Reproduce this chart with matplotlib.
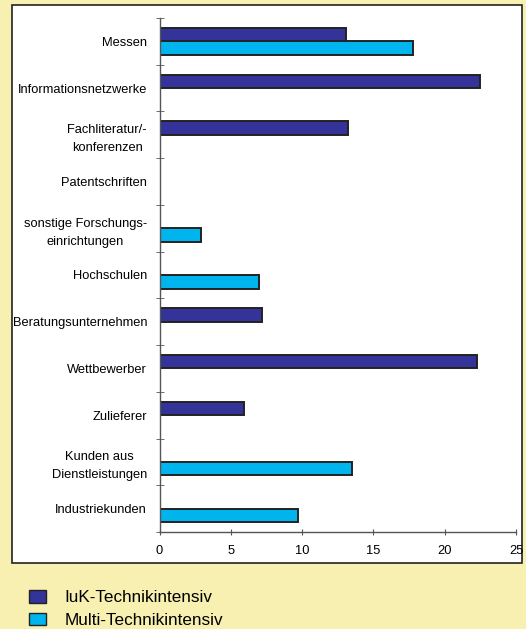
import matplotlib.pyplot as plt
from matplotlib.patches import Rectangle, Patch
import numpy as np

plt.rcParams['font.family'] = ['Liberation Sans', 'DejaVu Sans']

categories = [
    "Messen",
    "Informationsnetzwerke",
    "Fachliteratur/-\nkonferenzen",
    "Patentschriften",
    "sonstige Forschungs-\neinrichtungen",
    "Hochschulen",
    "Beratungsunternehmen",
    "Wettbewerber",
    "Zulieferer",
    "Kunden aus\nDienstleistungen",
    "Industriekunden",
]
iuk_values = [13.1, 22.5, 13.2, 0, 0, 0, 7.2, 22.3, 5.95, 0, 0]
multi_values = [17.75, 0, 0, 0, 2.9, 7.0, 0, 0, 0, 13.5, 9.7]
series_names = ["IuK-Technikintensiv", "Multi-Technikintensiv"]
x_ticks = [0, 5, 10, 15, 20, 25]

DARK = "#333399"
CYAN = "#00B4EE"
YELLOW = "#F8F0B0"

fig = plt.figure(figsize=(5.26, 6.29), dpi=100, facecolor=YELLOW)

# white frame around the plot
frame = Rectangle((12 / 526, 1 - 563 / 629), 510 / 526, 558 / 629,
                  transform=fig.transFigure, facecolor="white",
                  edgecolor="#222222", linewidth=1.2, zorder=0)
fig.patches.append(frame)

ax = fig.add_axes([159.5 / 526, 1 - 532 / 629, (516 - 159.5) / 526, (532 - 18) / 629])
ax.set_facecolor("none")
ax.set_zorder(2)

y = np.arange(len(categories))
h = 0.29
ax.barh(y - h / 2, iuk_values, height=h, color=DARK, edgecolor="#222222", linewidth=1.4)
ax.barh(y + h / 2, multi_values, height=h, color=CYAN, edgecolor="#222222", linewidth=1.4)

ax.set_ylim(len(categories) - 0.5, -0.5)
ax.set_xlim(0, 25)
ax.set_xticks(x_ticks)
ax.set_yticks(y)
ax.set_yticklabels(categories, fontsize=9.3, multialignment="center", linespacing=1.65)
ax.set_yticks(np.arange(len(categories) + 1) - 0.5, minor=True)
ax.tick_params(axis="y", which="major", length=0, pad=9)
ax.tick_params(axis="y", which="minor", length=6, direction="inout", color="#555555")
ax.tick_params(axis="x", length=5, direction="inout", labelsize=9.3, pad=7, color="#555555")

for side in ["top", "right"]:
    ax.spines[side].set_visible(False)
for side in ["left", "bottom"]:
    ax.spines[side].set_color("#555555")
    ax.spines[side].set_linewidth(1.0)

handles = [Patch(facecolor=DARK, edgecolor="#222222", linewidth=1.0),
           Patch(facecolor=CYAN, edgecolor="#222222", linewidth=1.0)]
fig.legend(handles, series_names, loc="upper left",
           bbox_to_anchor=(29 / 526, 1 - 590 / 629), frameon=False,
           fontsize=12.3, handlelength=1.0, handleheight=0.75,
           handletextpad=1.1, labelspacing=0.45, borderpad=0, borderaxespad=0)

fig.savefig("out.png", dpi=100, facecolor=YELLOW)
